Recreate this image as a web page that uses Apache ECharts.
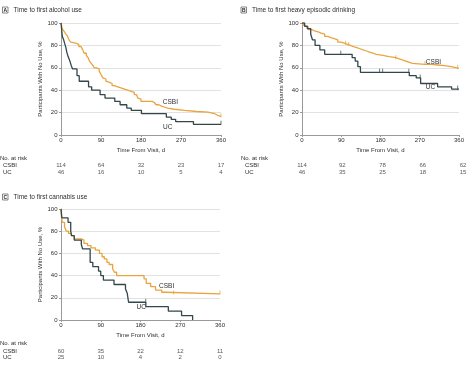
<!DOCTYPE html>
<html><head><meta charset="utf-8">
<script src="https://cdn.jsdelivr.net/npm/echarts@6/dist/echarts.min.js"></script>
<style>html,body{margin:0;padding:0;background:#fff}#c{width:467px;height:369px}</style>
</head><body><div id="c"></div>
<script>
const FONT = '"Liberation Sans Narrow","Liberation Sans",Arial,sans-serif';
const panelLetters = ['A', 'B', 'C'];
const panelTitles = ['Time to first alcohol use', 'Time to first heavy episodic drinking', 'Time to first cannabis use'];
const groups = ['CSBI', 'UC'];
const xAxisTitle = 'Time From Visit, d';
const yAxisTitle = 'Participants With No Use, %';
const riskTitle = 'No. at risk';
const riskTimes = [0, 90, 180, 270, 360];

const riskA_CSBI = [114, 64, 32, 23, 17];
const riskA_UC = [46, 16, 10, 5, 4];
const riskB_CSBI = [114, 92, 78, 66, 62];
const riskB_UC = [46, 35, 25, 18, 15];
const riskC_CSBI = [60, 35, 22, 12, 11];
const riskC_UC = [25, 10, 4, 2, 0];

// Kaplan-Meier curves: [day, % with no use]
const survA_CSBI = [[0,100],[2,96],[4,94],[8,92],[11,90],[15,88],[18,85],[22,83],[26,82],[33,81],[40,79],[45,78],[49,76],[52,73],[57,71],[61,69],[64,66],[68,64],[72,62],[75,60],[80,59],[86,57],[90,54],[94,51],[98,50],[101,48],[105,47],[109,46],[115,44],[120,43],[128,42],[135,41],[143,40],[150,39],[158,38],[165,36],[170,35],[173,33],[177,32],[180,30],[205,29],[210,28],[214,27],[220,26],[225,25],[232,24],[240,23],[255,22],[278,21],[305,20.5],[331,19.6],[340,19],[346,17.6],[352,17],[357,16.4],[360,16.4]];
const survA_UC = [[0,100],[1,96],[2,92],[3,88],[6,85],[8,82],[11,78],[13,74],[16,70],[20,66],[23,62],[26,59],[36,53],[41,48],[62,43],[69,40],[88,36],[99,33],[121,30],[133,27],[148,24],[158,22],[181,19],[237,16],[248,14],[258,12],[298,9.5],[360,9.5]];
const survB_CSBI = [[0,100],[4,98],[7,97],[14,94],[22,93],[29,92],[37,91],[44,90],[52,88],[59,87],[66,86],[74,85],[82,83],[89,82],[97,81],[104,80],[111,79],[118,78],[126,77],[133,76],[140,75],[148,74],[155,73],[163,72],[170,71.5],[178,71],[186,70.5],[193,70],[200,69.5],[208,69],[215,68],[223,67],[230,66],[238,65],[245,64],[253,63],[282,63],[297,62.5],[312,62],[327,61],[342,60],[355,59.5],[360,59.5]];
const survB_UC = [[0,100],[6,97],[12,95],[20,90],[24,85],[30,80],[41,76],[52,72],[115,69],[122,66],[128,61],[134,56],[246,53],[262,51],[272,46],[311,43],[343,41],[360,41]];
const survC_CSBI = [[0,100],[1,93],[3,88],[8,84],[12,80],[17,78],[23,76],[30,73],[46,72],[52,69],[60,67],[68,65],[78,63],[87,60],[93,57],[98,55],[104,52],[109,50],[117,46],[121,43],[126,40],[188,37],[193,33],[203,30],[214,27],[228,25],[236,23.5],[360,23.5]];
const survC_UC = [[0,100],[2,92],[16,88],[22,80],[24,76],[30,72],[46,68],[49,64],[66,52],[72,48],[85,44],[90,40],[96,36],[120,32],[146,28],[150,24],[153,16],[192,12],[243,8],[273,4],[298,0]];

// censored observations: [day, %]
const censA_CSBI = [[360,16.4]];
const censA_UC = [[360,9.5]];
const censB_CSBI = [[100,81],[107,80],[215,68],[282,63],[357,59.5]];
const censB_UC = [[89,72],[178,56],[185,56],[245,56],[271,51],[357,41]];
const censC_CSBI = [[255,23.5],[360,23.5]];
const censC_UC = [[192,16]];

const COL = {CSBI: '#E9A440', UC: '#33464A'};
const TXT = '#2e2e2e';
const AXC = '#9a9a9a';

const plots = [
  {left: 61, top: 23, width: 160, height: 112},
  {left: 302, top: 23, width: 161, height: 112},
  {left: 61, top: 209, width: 159, height: 111}
];
const risks = [
  {left: 61, top: 162.5, width: 160, height: 12.6, labelX: 3, titleX: 0, titleY: 159},
  {left: 302, top: 162.5, width: 161, height: 12.6, labelX: 245, titleX: 241, titleY: 159},
  {left: 61, top: 347.5, width: 159, height: 13.6, labelX: 3, titleX: 0, titleY: 344}
];
const titlePos = [{x: 2.5, y: 7}, {x: 241, y: 7}, {x: 2.5, y: 194}];
const curveLabelPos = [
  {CSBI: [229, 29.5], UC: [229.5, 7.4]},
  {CSBI: [284, 65.4], UC: [284, 42.6]},
  {CSBI: [222, 30], UC: [171, 11.4]}
];

const surv = [[survA_CSBI, survA_UC], [survB_CSBI, survB_UC], [survC_CSBI, survC_UC]];
const cens = [[censA_CSBI, censA_UC], [censB_CSBI, censB_UC], [censC_CSBI, censC_UC]];
const riskVals = [[riskA_CSBI, riskA_UC], [riskB_CSBI, riskB_UC], [riskC_CSBI, riskC_UC]];

const grid = [], xAxis = [], yAxis = [], series = [], graphic = [];
plots.forEach((p, i) => {
  grid.push({left: p.left, top: p.top, width: p.width, height: p.height, containLabel: false});
  xAxis.push({
    gridIndex: i, type: 'value', min: 0, max: 360, interval: 90,
    axisLine: {show: true, lineStyle: {color: AXC, width: 1}},
    axisTick: {show: true, length: 2, lineStyle: {color: AXC}},
    axisLabel: {fontSize: 6, fontFamily: FONT, color: TXT, margin: 2.5},
    splitLine: {show: false},
    name: xAxisTitle, nameLocation: 'middle', nameGap: 12,
    nameTextStyle: {fontSize: 6, fontFamily: FONT, color: TXT}
  });
  yAxis.push({
    gridIndex: i, type: 'value', min: 0, max: 100, interval: 20,
    axisLine: {show: true, lineStyle: {color: AXC, width: 1}},
    axisTick: {show: true, length: 2, lineStyle: {color: AXC}},
    axisLabel: {fontSize: 6, fontFamily: FONT, color: TXT, margin: 3.5},
    splitLine: {show: true, lineStyle: {color: '#e2e2e2', width: 1}},
    name: yAxisTitle, nameLocation: 'middle', nameGap: 17, nameRotate: 90,
    nameTextStyle: {fontSize: 6, fontFamily: FONT, color: TXT}
  });
  groups.forEach((g, k) => {
    series.push({
      type: 'line', xAxisIndex: i, yAxisIndex: i, step: 'end', data: surv[i][k],
      showSymbol: false, symbol: 'none', lineStyle: {color: COL[g], width: 1.3},
      z: k === 0 ? 3 : 4, animation: false,
      markPoint: {
        symbol: 'circle', symbolSize: 0, silent: true, animation: false,
        data: [{coord: curveLabelPos[i][g], value: g}],
        label: {show: true, formatter: g, position: 'right', distance: 0, fontSize: 6.5, fontFamily: FONT, color: TXT}
      }
    });
    series.push({
      type: 'scatter', xAxisIndex: i, yAxisIndex: i, data: cens[i][k],
      symbol: 'rect', symbolSize: [0.9, 4], symbolOffset: [0, -1.5],
      itemStyle: {color: COL[g]}, z: 5, animation: false, silent: true
    });
  });
});
risks.forEach((r, j) => {
  const gi = 3 + j;
  grid.push({left: r.left, top: r.top, width: r.width, height: r.height, containLabel: false});
  xAxis.push({gridIndex: gi, type: 'value', min: 0, max: 360, show: false});
  yAxis.push({
    gridIndex: gi, type: 'category', data: groups, inverse: true,
    axisLine: {show: false}, axisTick: {show: false}, splitLine: {show: false},
    axisLabel: {interval: 0, fontSize: 6, fontFamily: FONT, color: TXT, align: 'left', margin: r.left - r.labelX}
  });
  groups.forEach((g, k) => {
    series.push({
      type: 'scatter', xAxisIndex: gi, yAxisIndex: gi,
      data: riskTimes.map((t, m) => [t, g, riskVals[j][k][m]]),
      symbolSize: 1, itemStyle: {color: 'rgba(0,0,0,0)'}, animation: false, silent: true,
      label: {show: true, position: 'inside', formatter: p => String(p.value[2]), fontSize: 6, fontFamily: FONT, color: TXT}
    });
  });
  graphic.push({type: 'text', left: r.titleX, top: r.titleY - 3.5, style: {text: riskTitle, fontSize: 6, fontFamily: FONT, fill: TXT}});
});
titlePos.forEach((t, i) => {
  graphic.push({type: 'rect', shape: {x: t.x, y: t.y, width: 5.5, height: 6}, style: {fill: '#fff', stroke: '#555', lineWidth: 0.7}});
  graphic.push({type: 'text', x: t.x + 2.75, y: t.y + 3.2, style: {text: panelLetters[i], fontSize: 5, fontWeight: 'bold', fontFamily: FONT, fill: '#222', align: 'center', verticalAlign: 'middle'}});
  graphic.push({type: 'text', x: t.x + 11, y: t.y + 3.2, style: {text: panelTitles[i], fontSize: 6.5, fontFamily: FONT, fill: TXT, align: 'left', verticalAlign: 'middle'}});
});

const chart = echarts.init(document.getElementById('c'), null, {renderer: 'canvas'});
chart.setOption({animation: false, backgroundColor: '#fff', grid, xAxis, yAxis, series, graphic});
</script></body></html>
